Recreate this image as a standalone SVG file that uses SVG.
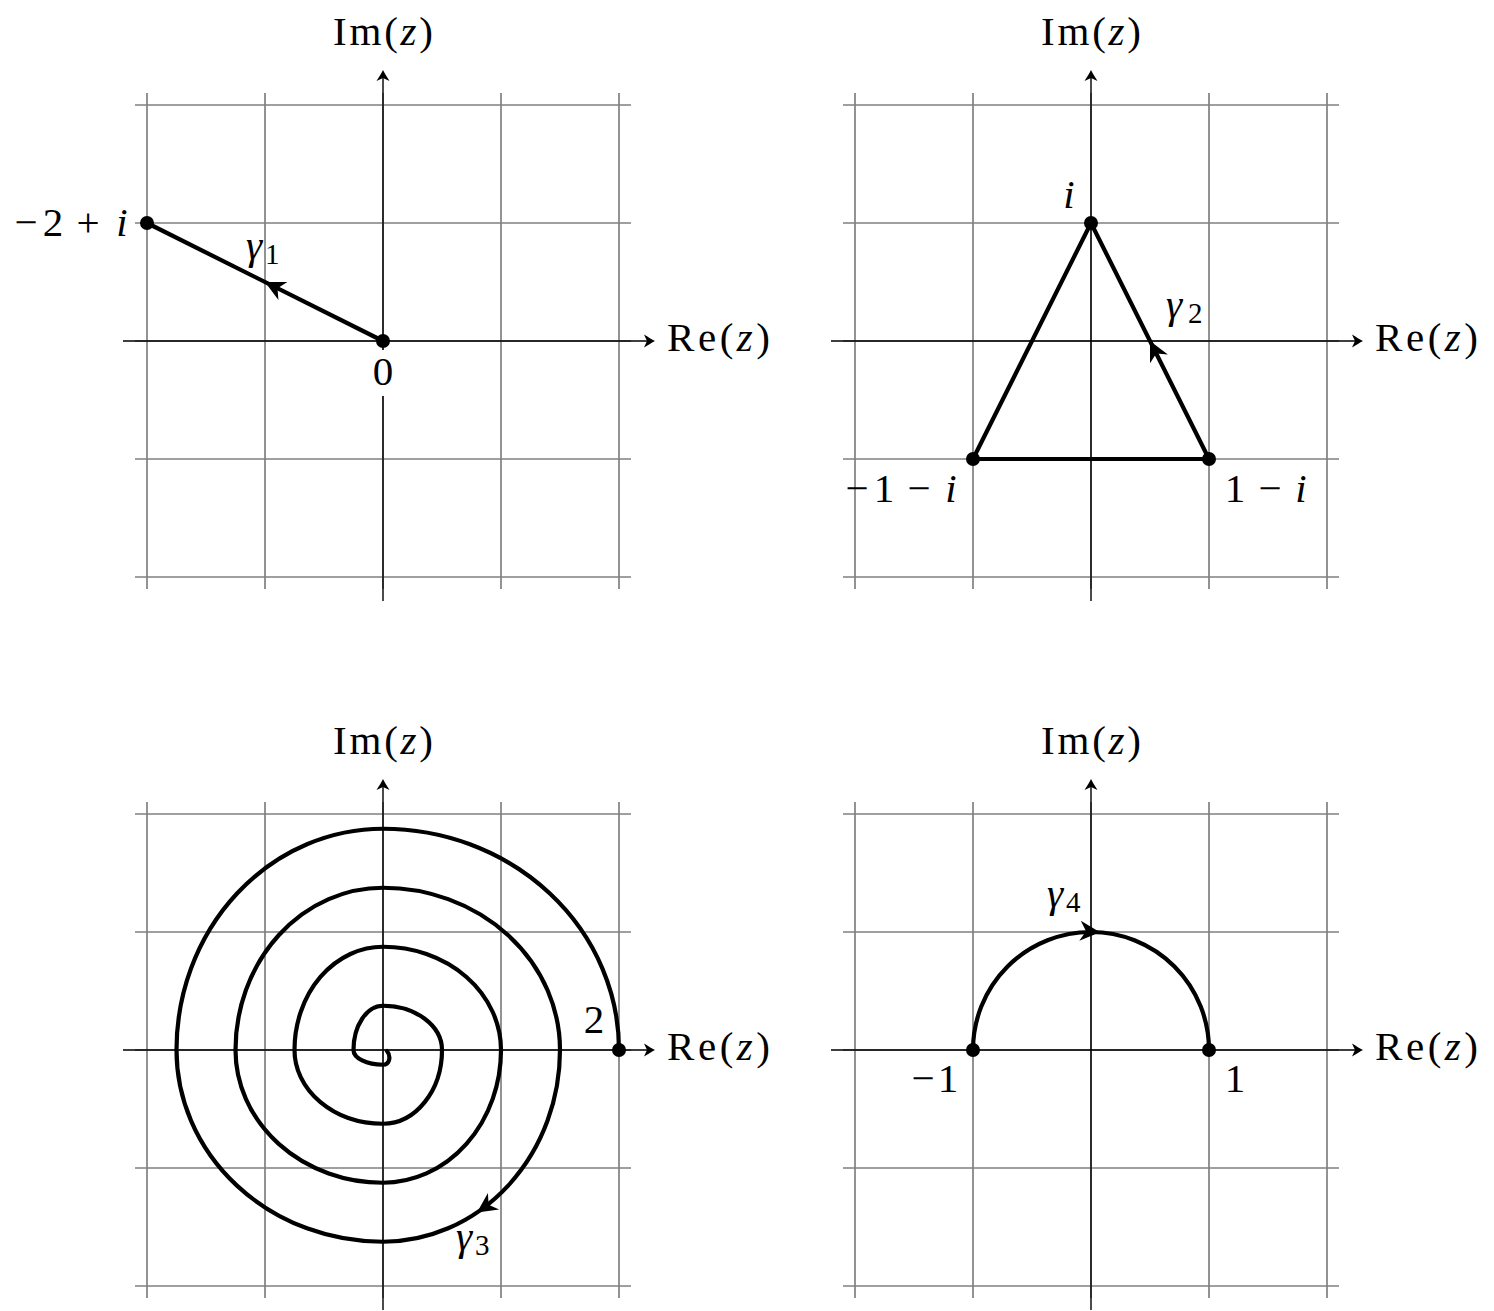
<svg xmlns="http://www.w3.org/2000/svg" width="1494" height="1311" viewBox="0 0 1494 1311">
<defs>
<g id="gridlines" stroke="#808080" stroke-width="1.7" fill="none">
<path d="M-236 -248V248M-118 -248V248M0 -248V248M118 -248V248M236 -248V248"/>
<path d="M-248 -236H248M-248 -118H248M-248 0H248M-248 118H248M-248 236H248"/>
</g>
<path id="axhead" d="M0 0C-3 -1.5 -7 -4 -11 -6.5L-8 0L-11 6.5C-7 4 -3 1.5 0 0Z" fill="#000"/>
<g id="axes">
<path stroke="#000" stroke-width="1.4" fill="none" d="M-260 0H270M0 260V-269"/>
<use href="#axhead" transform="translate(272 0)"/>
<use href="#axhead" transform="translate(0 -271) rotate(-90)"/>
</g>
<path id="stealth" d="M0 0L-20 -10L-14 0L-20 10Z" fill="#000"/>
</defs>

<g id="panel1">
<use href="#gridlines" transform="translate(383 341)"/>
<use href="#axes" transform="translate(383 341)"/>
<g id="gamma1">
<path stroke="#000" stroke-width="4.2" fill="none" stroke-linecap="round" d="M383 341L147 223"/>
<use href="#stealth" transform="translate(265 282) rotate(206.57)"/>
</g>
<circle cx="383" cy="341" r="7"/>
<circle cx="147" cy="223" r="7"/>
<rect x="369" y="350" width="28" height="46" fill="#fff"/>
</g>
<g id="panel2">
<use href="#gridlines" transform="translate(1091 341)"/>
<use href="#axes" transform="translate(1091 341)"/>
<g id="gamma2">
<path stroke="#000" stroke-width="4.2" fill="none" stroke-linejoin="round" d="M973 459L1209 459L1091 223Z"/>
<use href="#stealth" transform="translate(1150 341) rotate(243.43)"/>
</g>
<circle cx="973" cy="459" r="7"/>
<circle cx="1209" cy="459" r="7"/>
<circle cx="1091" cy="223" r="7"/>
</g>
<g id="panel3">
<use href="#gridlines" transform="translate(383 1050)"/>
<use href="#axes" transform="translate(383 1050)"/>
<g id="gamma3">
<path stroke="#000" stroke-width="4.2" fill="none" stroke-linecap="round" d="M619 1050A236 221.25 0 0 0 383 828.75A206.5 221.25 0 0 0 176.5 1050A206.5 191.75 0 0 0 383 1241.75A177 191.75 0 0 0 560 1050A177 162.25 0 0 0 383 887.75A147.5 162.25 0 0 0 235.5 1050A147.5 132.75 0 0 0 383 1182.75A118 132.75 0 0 0 501 1050A118 103.25 0 0 0 383 946.75A88.5 103.25 0 0 0 294.5 1050A88.5 73.75 0 0 0 383 1123.75A59 73.75 0 0 0 442 1050A59 44.25 0 0 0 383 1005.75A29.5 44.25 0 0 0 353.5 1050A29.5 14.75 0 0 0 383 1064.75C390 1064.75 391 1056 387 1051"/>
<use href="#stealth" transform="translate(477 1212.5) rotate(145.8)"/>
</g>
<circle cx="619" cy="1050" r="7"/>
</g>
<g id="panel4">
<use href="#gridlines" transform="translate(1091 1050)"/>
<use href="#axes" transform="translate(1091 1050)"/>
<g id="gamma4">
<path stroke="#000" stroke-width="4.2" fill="none" d="M973 1050A118 118 0 0 1 1209 1050"/>
<use href="#stealth" transform="translate(1100 932.3) rotate(4.4)"/>
</g>
<circle cx="973" cy="1050" r="7"/>
<circle cx="1209" cy="1050" r="7"/>
</g>

<text font-family="Liberation Serif, serif" style="font-family:'Liberation Serif',serif" font-size="41" x="383" y="385" text-anchor="middle">0</text>
<text font-family="Liberation Serif, serif" style="font-family:'Liberation Serif',serif" font-size="41" y="236" text-anchor="middle"><tspan x="26">−</tspan><tspan x="53">2</tspan><tspan x="88">+</tspan><tspan x="122" font-style="italic">i</tspan></text>
<text font-family="Liberation Serif, serif" style="font-family:'Liberation Serif',serif" font-size="41" x="246" y="259" font-style="italic">γ</text>
<text font-family="Liberation Serif, serif" style="font-family:'Liberation Serif',serif" font-size="29" x="265" y="264">1</text>
<text font-family="Liberation Serif, serif" style="font-family:'Liberation Serif',serif" font-size="41" x="383" y="45" text-anchor="middle" textLength="100" lengthAdjust="spacing">Im(<tspan font-style="italic">z</tspan>)</text>
<text font-family="Liberation Serif, serif" style="font-family:'Liberation Serif',serif" font-size="41" x="667" y="351" textLength="103" lengthAdjust="spacing">Re(<tspan font-style="italic">z</tspan>)</text>

<text font-family="Liberation Serif, serif" style="font-family:'Liberation Serif',serif" font-size="41" x="1069" y="208" text-anchor="middle" font-style="italic">i</text>
<text font-family="Liberation Serif, serif" style="font-family:'Liberation Serif',serif" font-size="41" x="1166" y="318" font-style="italic">γ</text>
<text font-family="Liberation Serif, serif" style="font-family:'Liberation Serif',serif" font-size="29" x="1188" y="323">2</text>
<text font-family="Liberation Serif, serif" style="font-family:'Liberation Serif',serif" font-size="41" y="502" text-anchor="middle"><tspan x="857">−</tspan><tspan x="884">1</tspan><tspan x="919">−</tspan><tspan x="951" font-style="italic">i</tspan></text>
<text font-family="Liberation Serif, serif" style="font-family:'Liberation Serif',serif" font-size="41" y="502" text-anchor="middle"><tspan x="1235">1</tspan><tspan x="1270">−</tspan><tspan x="1301" font-style="italic">i</tspan></text>
<text font-family="Liberation Serif, serif" style="font-family:'Liberation Serif',serif" font-size="41" x="1091" y="45" text-anchor="middle" textLength="100" lengthAdjust="spacing">Im(<tspan font-style="italic">z</tspan>)</text>
<text font-family="Liberation Serif, serif" style="font-family:'Liberation Serif',serif" font-size="41" x="1375" y="351" textLength="103" lengthAdjust="spacing">Re(<tspan font-style="italic">z</tspan>)</text>

<text font-family="Liberation Serif, serif" style="font-family:'Liberation Serif',serif" font-size="41" x="594" y="1033" text-anchor="middle">2</text>
<text font-family="Liberation Serif, serif" style="font-family:'Liberation Serif',serif" font-size="41" x="456" y="1250" font-style="italic">γ</text>
<text font-family="Liberation Serif, serif" style="font-family:'Liberation Serif',serif" font-size="29" x="475" y="1255">3</text>
<text font-family="Liberation Serif, serif" style="font-family:'Liberation Serif',serif" font-size="41" x="383" y="754" text-anchor="middle" textLength="100" lengthAdjust="spacing">Im(<tspan font-style="italic">z</tspan>)</text>
<text font-family="Liberation Serif, serif" style="font-family:'Liberation Serif',serif" font-size="41" x="667" y="1060" textLength="103" lengthAdjust="spacing">Re(<tspan font-style="italic">z</tspan>)</text>

<text font-family="Liberation Serif, serif" style="font-family:'Liberation Serif',serif" font-size="41" x="1047" y="907" font-style="italic">γ</text>
<text font-family="Liberation Serif, serif" style="font-family:'Liberation Serif',serif" font-size="29" x="1066" y="912">4</text>
<text font-family="Liberation Serif, serif" style="font-family:'Liberation Serif',serif" font-size="41" y="1092" text-anchor="middle"><tspan x="923">−</tspan><tspan x="948">1</tspan></text>
<text font-family="Liberation Serif, serif" style="font-family:'Liberation Serif',serif" font-size="41" x="1235" y="1092" text-anchor="middle">1</text>
<text font-family="Liberation Serif, serif" style="font-family:'Liberation Serif',serif" font-size="41" x="1091" y="754" text-anchor="middle" textLength="100" lengthAdjust="spacing">Im(<tspan font-style="italic">z</tspan>)</text>
<text font-family="Liberation Serif, serif" style="font-family:'Liberation Serif',serif" font-size="41" x="1375" y="1060" textLength="103" lengthAdjust="spacing">Re(<tspan font-style="italic">z</tspan>)</text>
</svg>
